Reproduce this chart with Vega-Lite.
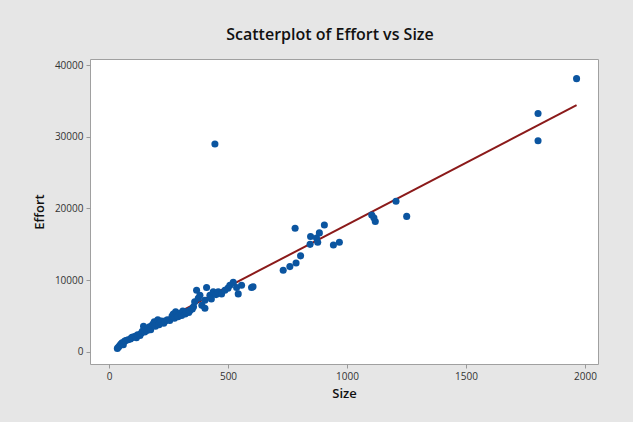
{
  "$schema": "https://vega.github.io/schema/vega-lite/v6.json",
  "width": 508,
  "height": 305,
  "autosize": {"type": "none"},
  "padding": {"left": 90, "top": 59, "right": 35, "bottom": 58},
  "background": "#e6e6e6",
  "title": {
    "text": "Scatterplot of Effort vs Size",
    "font": "Open Sans",
    "fontSize": 16,
    "fontWeight": 600,
    "color": "#111111",
    "anchor": "middle",
    "dx": -14,
    "offset": 16
  },
  "config": {
    "view": {"fill": "white", "stroke": "#a0a0a0", "strokeWidth": 1},
    "axis": {
      "labelFont": "Open Sans",
      "labelFontSize": 10,
      "labelColor": "#333333",
      "titleFont": "Open Sans",
      "titleFontSize": 13,
      "titleFontWeight": 600,
      "titleColor": "#111111",
      "grid": false,
      "domain": false,
      "tickColor": "#999999",
      "tickSize": 4
    }
  },
  "data": {
    "values": [
      {"Size": 35, "Effort": 500}, {"Size": 40, "Effort": 700}, {"Size": 45, "Effort": 900},
      {"Size": 50, "Effort": 1100}, {"Size": 55, "Effort": 1300}, {"Size": 60, "Effort": 1000},
      {"Size": 65, "Effort": 1500}, {"Size": 70, "Effort": 1600}, {"Size": 80, "Effort": 1700},
      {"Size": 90, "Effort": 1800}, {"Size": 95, "Effort": 2000}, {"Size": 100, "Effort": 2100},
      {"Size": 110, "Effort": 2200}, {"Size": 115, "Effort": 2000}, {"Size": 120, "Effort": 2400},
      {"Size": 130, "Effort": 2300}, {"Size": 135, "Effort": 2600}, {"Size": 140, "Effort": 2900},
      {"Size": 145, "Effort": 3600}, {"Size": 150, "Effort": 2800}, {"Size": 155, "Effort": 3200},
      {"Size": 160, "Effort": 3000}, {"Size": 165, "Effort": 3300}, {"Size": 170, "Effort": 3500},
      {"Size": 175, "Effort": 3100}, {"Size": 180, "Effort": 3700}, {"Size": 185, "Effort": 3900},
      {"Size": 190, "Effort": 4200}, {"Size": 195, "Effort": 3600}, {"Size": 200, "Effort": 4000},
      {"Size": 205, "Effort": 4500}, {"Size": 210, "Effort": 3800}, {"Size": 215, "Effort": 4100},
      {"Size": 220, "Effort": 4300}, {"Size": 230, "Effort": 4000}, {"Size": 235, "Effort": 4300},
      {"Size": 245, "Effort": 4500}, {"Size": 255, "Effort": 4400}, {"Size": 265, "Effort": 5000},
      {"Size": 270, "Effort": 5300}, {"Size": 275, "Effort": 4700}, {"Size": 280, "Effort": 5600},
      {"Size": 285, "Effort": 5200}, {"Size": 290, "Effort": 4900}, {"Size": 300, "Effort": 5400},
      {"Size": 305, "Effort": 5100}, {"Size": 310, "Effort": 5700}, {"Size": 320, "Effort": 5300},
      {"Size": 325, "Effort": 5600}, {"Size": 335, "Effort": 5500}, {"Size": 340, "Effort": 5800},
      {"Size": 350, "Effort": 6000}, {"Size": 355, "Effort": 6300}, {"Size": 360, "Effort": 7000},
      {"Size": 368, "Effort": 8600}, {"Size": 375, "Effort": 7500}, {"Size": 382, "Effort": 7900},
      {"Size": 390, "Effort": 6500}, {"Size": 403, "Effort": 7200}, {"Size": 403, "Effort": 6100},
      {"Size": 410, "Effort": 9000}, {"Size": 424, "Effort": 7900}, {"Size": 430, "Effort": 7400},
      {"Size": 438, "Effort": 8400}, {"Size": 445, "Effort": 29000}, {"Size": 450, "Effort": 8000},
      {"Size": 459, "Effort": 8400}, {"Size": 473, "Effort": 8100}, {"Size": 487, "Effort": 8600},
      {"Size": 500, "Effort": 8900}, {"Size": 508, "Effort": 9300}, {"Size": 522, "Effort": 9700},
      {"Size": 536, "Effort": 9000}, {"Size": 543, "Effort": 8100}, {"Size": 557, "Effort": 9300},
      {"Size": 599, "Effort": 9000}, {"Size": 605, "Effort": 9100},
      {"Size": 732, "Effort": 11400}, {"Size": 760, "Effort": 11900}, {"Size": 782, "Effort": 17250},
      {"Size": 786, "Effort": 12400}, {"Size": 805, "Effort": 13400}, {"Size": 845, "Effort": 15000},
      {"Size": 847, "Effort": 16100}, {"Size": 872, "Effort": 15900}, {"Size": 877, "Effort": 15300},
      {"Size": 884, "Effort": 16600}, {"Size": 905, "Effort": 17700}, {"Size": 943, "Effort": 14900},
      {"Size": 968, "Effort": 15300}, {"Size": 1104, "Effort": 19100}, {"Size": 1113, "Effort": 18700},
      {"Size": 1119, "Effort": 18200}, {"Size": 1206, "Effort": 21000}, {"Size": 1251, "Effort": 18900},
      {"Size": 1803, "Effort": 33250}, {"Size": 1803, "Effort": 29450}, {"Size": 1965, "Effort": 38100}
    ]
  },
  "encoding": {
    "x": {
      "field": "Size", "type": "quantitative", "title": "Size",
      "scale": {"domain": [-80, 2055], "nice": false, "zero": false},
      "axis": {"values": [0, 500, 1000, 1500, 2000], "format": "d", "titlePadding": 6, "labelPadding": 3}
    },
    "y": {
      "field": "Effort", "type": "quantitative", "title": "Effort",
      "scale": {"domain": [-1674, 40837], "nice": false, "zero": false},
      "axis": {"values": [0, 10000, 20000, 30000, 40000], "format": "d", "titlePadding": 8, "labelPadding": 3}
    }
  },
  "layer": [
    {
      "mark": {"type": "line", "color": "#8b1a1a", "strokeWidth": 2},
      "transform": [{"regression": "Effort", "on": "Size"}]
    },
    {
      "mark": {"type": "circle", "color": "#0b55a0", "opacity": 1, "size": 50}
    }
  ]
}
